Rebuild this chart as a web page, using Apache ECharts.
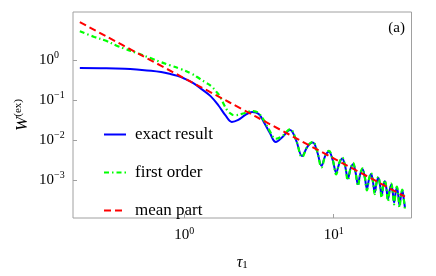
<!DOCTYPE html>
<html>
<head>
<meta charset="utf-8">
<script src="https://cdn.jsdelivr.net/npm/echarts@6/dist/echarts.min.js"></script>
<style>
html,body{margin:0;padding:0;background:#fff;}
#c{width:436px;height:276px;}
</style>
</head>
<body>
<div id="c"></div>
<script>
// ---- data ----
const seriesNames = ['exact result', 'first order', 'mean part'];

const tauExact = [0.20,0.30,0.40,0.50,0.60,0.70,0.80,0.90,1.00,1.15,1.30,1.50,1.70,1.90,2.08,2.30,2.55,2.85,3.15,3.45,3.75,
  4.10,4.55,5.10,5.60,6.15,6.70,7.25,7.75,8.30,8.80,9.30,9.85,10.40,10.90,11.40,11.95,12.45,12.95,13.50,14.00,14.55,15.05,15.60,16.15,16.70,17.25,17.80,18.30,18.85,19.35,19.90,20.45,20.95,21.45,22.00,22.55,23.10,23.70,24.30,24.85,25.40,25.95,26.50,27.05,27.60,28.20,28.80,29.40,30.00];
const wExact = [0.63,0.62,0.60,0.57,0.54,0.50,0.45,0.40,0.345,0.265,0.19,0.125,0.072,0.040,0.0285,0.032,0.042,0.050,0.045,0.026,0.0148,
  0.0090,0.0120,0.0180,0.0100,0.0040,0.0070,0.0087,0.0052,0.0023,0.0041,0.0051,0.0032,0.00155,0.0026,0.0035,0.0022,0.00110,0.0019,0.0025,0.0016,0.00080,0.0014,0.00187,0.0012,0.00062,0.00106,0.00143,0.00094,0.00050,0.00084,0.00115,0.00075,0.00041,0.00068,0.00094,0.00062,0.00034,0.00056,0.00077,0.00051,0.00028,0.00047,0.00065,0.00043,0.00024,0.00040,0.00055,0.00036,0.00021];

const tauFirst = [0.20,0.25,0.30,0.35,0.40,0.48,0.60,0.70,0.80,0.94,1.10,1.27,1.40,1.52,1.63,1.74,1.85,1.95,2.10,2.19,2.48,2.75,2.90,3.10,3.40,3.70,
  4.10,4.55,5.10,5.60,6.15,6.70,7.25,7.75,8.30,8.80,9.30,9.85,10.40,10.90,11.40,11.95,12.45,12.95,13.50,14.00,14.55,15.05,15.60,16.15,16.70,17.25,17.80,18.30,18.85,19.35,19.90,20.45,20.95,21.45,22.00,22.55,23.10,23.70,24.30,24.85,25.40,25.95,26.50,27.05,27.60,28.20,28.80,29.40,30.00];
const wFirst = [5.2,3.75,3.0,2.3,1.9,1.5,1.1,0.88,0.74,0.60,0.47,0.34,0.27,0.22,0.165,0.12,0.075,0.054,0.043,0.042,0.046,0.052,0.053,0.049,0.032,0.018,
  0.0108,0.0128,0.0188,0.0102,0.0038,0.0071,0.0091,0.0053,0.0021,0.0042,0.0054,0.0033,0.00140,0.0027,0.0037,0.0022,0.00099,0.0019,0.0027,0.0016,0.00072,0.0014,0.00198,0.0012,0.00056,0.00107,0.00152,0.00095,0.00045,0.00085,0.00122,0.00076,0.00037,0.00069,0.00100,0.00063,0.00030,0.00057,0.00082,0.00052,0.00025,0.00048,0.00069,0.00044,0.00021,0.00041,0.00058,0.00037,0.00019];

const tauMean = [0.20,0.30,0.50,1.0,2.0,3.0,5.0,10.0,20.0,30.0];
const wMean = [8.8,3.9,1.4,0.35,0.088,0.039,0.014,0.0035,0.00088,0.00039];

const xTicks = [1, 10];
const yTicks = [1, 0.1, 0.01, 0.001];

// ---- chart ----
const zip = (a, b) => a.map((v, i) => [v, b[i]]);
const SERIF = 'Liberation Serif';
const expLabel = v => {
  const e = Math.round(Math.log10(v));
  return '{b|10}{s|' + (e < 0 ? '\u2212' + (-e) : e) + '}';
};
const labelRich = {
  b: {fontSize: 15, fontFamily: SERIF, color: '#000'},
  s: {fontSize: 10, fontFamily: SERIF, color: '#000', padding: [0, 0, 9, 0]}
};

const chart = echarts.init(document.getElementById('c'), null, {renderer: 'canvas'});
chart.setOption({
  animation: false,
  backgroundColor: '#fff',
  textStyle: {fontFamily: SERIF},
  title: {
    text: '(a)', right: 26, top: 16,
    textStyle: {fontFamily: SERIF, fontSize: 15, fontWeight: 'normal', color: '#000'}
  },
  grid: {left: 73, right: 24.5, top: 12, bottom: 55, show: true, borderColor: '#a0a0a0', borderWidth: 1, backgroundColor: 'transparent'},
  legend: {
    orient: 'vertical', left: 103, top: 126, padding: 0,
    itemWidth: 22, itemHeight: 14, itemGap: 21,
    data: seriesNames,
    itemStyle: {opacity: 0, borderWidth: 0},
    textStyle: {fontFamily: SERIF, fontSize: 17, color: '#000', padding: [0, 0, 0, 4]}
  },
  xAxis: {
    type: 'log', logBase: 10, min: 0.18, max: 33.2,
    name: '{t|\u03c4}{s|1}', nameLocation: 'middle', nameGap: 36, nameMoveOverlap: false,
    nameTextStyle: {rich: {
      t: {fontSize: 16, fontStyle: 'italic', fontFamily: SERIF, color: '#000'},
      s: {fontSize: 11, fontFamily: SERIF, color: '#000', padding: [6, 0, 0, 0]}
    }},
    axisLine: {show: false},
    axisTick: {show: true, inside: true, length: 4, customValues: xTicks, lineStyle: {color: '#a0a0a0'}},
    axisLabel: {customValues: xTicks, formatter: expLabel, rich: labelRich, margin: 8},
    splitLine: {show: false}, minorTick: {show: false}
  },
  yAxis: {
    type: 'log', logBase: 10, min: 1.14e-4, max: 15.7,
    name: '{w|W}{s|(ex)}', nameLocation: 'middle', nameGap: 40, nameRotate: 90, nameMoveOverlap: false,
    nameTextStyle: {rich: {
      w: {fontSize: 17, fontStyle: 'italic', fontFamily: SERIF, color: '#000'},
      s: {fontSize: 11, fontFamily: SERIF, color: '#000', padding: [0, 0, 9, 0]}
    }},
    axisLine: {show: false},
    axisTick: {show: true, inside: true, length: 4, customValues: yTicks, lineStyle: {color: '#a0a0a0'}},
    axisLabel: {customValues: yTicks, formatter: expLabel, rich: labelRich, margin: 34, align: 'left'},
    splitLine: {show: false}, minorTick: {show: false}
  },
  series: [
    {name: seriesNames[0], type: 'line', data: zip(tauExact, wExact), showSymbol: false, symbol: 'none', smooth: 0.4,
     lineStyle: {color: '#0000ff', width: 2}, itemStyle: {color: '#0000ff'}, z: 2},
    {name: seriesNames[1], type: 'line', data: zip(tauFirst, wFirst), showSymbol: false, symbol: 'none', smooth: 0.4,
     lineStyle: {color: '#00ff00', width: 2.2, type: [5, 3, 1.5, 3]}, itemStyle: {color: '#00ff00'}, z: 3},
    {name: seriesNames[2], type: 'line', data: zip(tauMean, wMean), showSymbol: false, symbol: 'none', smooth: 0.3,
     lineStyle: {color: '#ff0000', width: 2, type: [7, 4]}, itemStyle: {color: '#ff0000'}, z: 4}
  ]
});
</script>
</body>
</html>
